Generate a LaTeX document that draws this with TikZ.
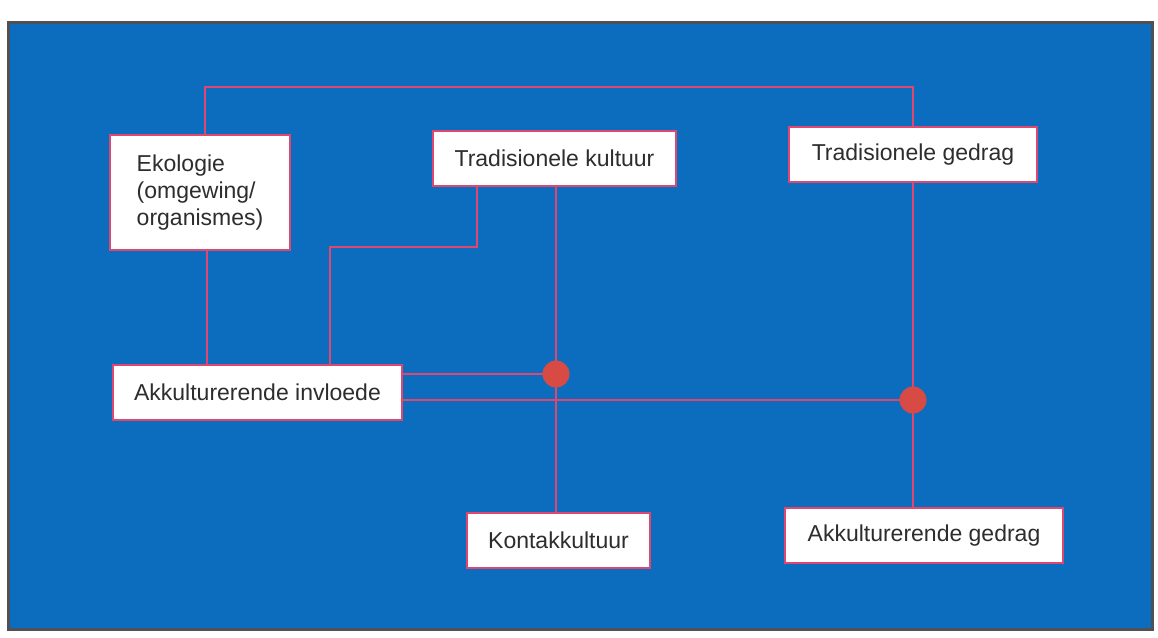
\documentclass[tikz,border=0pt]{standalone}
\usepackage{fontspec}
\setmainfont{Liberation Sans}
\definecolor{bgblue}{RGB}{12,108,190}
\definecolor{lnpink}{RGB}{222,72,112}
\definecolor{dotred}{RGB}{216,74,68}
\definecolor{txtgray}{RGB}{45,45,45}
\definecolor{frame}{RGB}{80,80,85}
\tikzset{
  box/.style={draw=lnpink, line width=2pt, fill=white, rectangle, inner sep=0pt,
    text=txtgray, font=\fontsize{23}{27}\selectfont},
  link/.style={draw=lnpink, line width=2pt},
  junction/.style={circle, fill=dotred, inner sep=0pt, minimum size=27pt}
}
\begin{document}
\begin{tikzpicture}[x=1pt,y=-1pt]
\useasboundingbox (0,0) rectangle (1158,637);
\fill[white] (0,0) rectangle (1158,637);
\draw[fill=bgblue, draw=frame, line width=3pt] (8,22) rectangle (1152,629);

% boxes
\node[box, minimum width=180pt, minimum height=115pt, align=left] (eko) at (200,192.5)
  {Ekologie\\(omgewing/\\organismes)};
\node[box, minimum width=243pt, minimum height=55pt] (tk) at (554.5,158.5) {Tradisionele kultuur};
\node[box, minimum width=248pt, minimum height=55pt] (tg) at (913,154.5) {Tradisionele gedrag};
\node[box, minimum width=289pt, minimum height=55pt] (ai) at (257.5,392.5) {Akkulturerende invloede};
\node[box, minimum width=183pt, minimum height=55pt] (kk) at (558.5,540.5) {Kontakkultuur};
\node[box, minimum width=278pt, minimum height=55pt] (ag) at (924,535.5) {Akkulturerende gedrag};

% helper coordinates
\coordinate (top1) at (205,87);
\coordinate (top2) at (913,87);
\coordinate (xe) at (207,0);
\coordinate (xk) at (477,0);
\coordinate (bend1) at (477,247);
\coordinate (bend2) at (330,247);
\coordinate (xc) at (556,0);
\coordinate (d1) at (556,374);
\coordinate (d2) at (913,400);

% connectors
\draw[link] (eko.north -| top1) -- (top1) -- (top2) -- (tg.north);
\draw[link] (eko.south -| xe) -- (ai.north -| xe);
\draw[link] (tk.south -| xk) -- (bend1) -- (bend2) -- (ai.north -| bend2);
\draw[link] (tk.south -| xc) -- (kk.north -| xc);
\draw[link] (tg.south) -- (ag.north -| tg.south);
\draw[link] (ai.east |- d1) -- (d1);
\draw[link] (ai.east |- d2) -- (d2);

% junction dots
\node[junction] (j1) at (d1) {};
\node[junction] (j2) at (d2) {};
\end{tikzpicture}
\end{document}
